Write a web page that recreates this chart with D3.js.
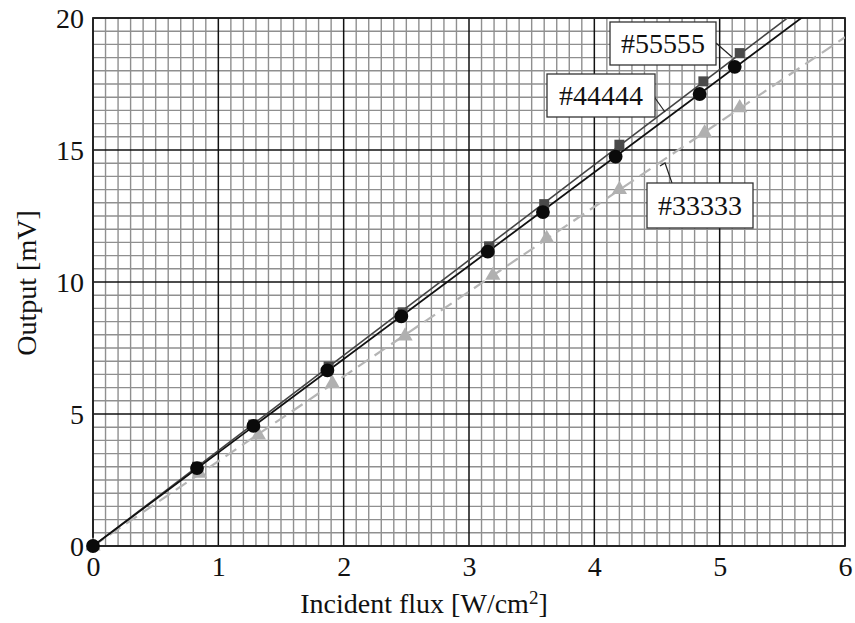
<!DOCTYPE html>
<html><head><meta charset="utf-8">
<script src="https://cdn.jsdelivr.net/npm/d3@7"></script>
<style>body{margin:0;background:#fff}svg{display:block}text{font-family:"Liberation Serif","Times New Roman",serif}</style>
</head><body>
<script>
// Data
const flux33333 = [0, 0.85, 1.32, 1.91, 2.49, 3.19, 3.62, 4.20, 4.88, 5.16];
const out33333  = [0, 2.75, 4.2, 6.15, 7.95, 10.25, 11.65, 13.5, 15.65, 16.6];
const flux44444 = [0, 0.83, 1.28, 1.87, 2.46, 3.15, 3.59, 4.17, 4.84, 5.12];
const out44444  = [0, 2.95, 4.55, 6.65, 8.7, 11.15, 12.65, 14.75, 17.12, 18.15];
const flux55555 = [0, 0.83, 1.28, 1.88, 2.47, 3.16, 3.60, 4.20, 4.87, 5.16];
const out55555  = [0, 3.0, 4.6, 6.8, 8.85, 11.35, 12.95, 15.2, 17.6, 18.67];
const seriesNames = ["#55555", "#44444", "#33333"];
const xTicks = [0, 1, 2, 3, 4, 5, 6];
const yTicks = [0, 5, 10, 15, 20];
const xTitle = "Incident flux [W/cm";
const xTitleSup = "2";
const yTitle = "Output [mV]";

const W = 855, H = 623;
const m = {left: 93, top: 18, right: 10, bottom: 77};
const iw = W - m.left - m.right, ih = H - m.top - m.bottom;

const svg = d3.select("body").append("svg").attr("width", W).attr("height", H);
const x = d3.scaleLinear().domain([0, 6]).range([m.left, m.left + iw]);
const y = d3.scaleLinear().domain([0, 20]).range([m.top + ih, m.top]);

svg.append("defs").append("clipPath").attr("id", "clip")
  .append("rect").attr("x", m.left).attr("y", m.top).attr("width", iw).attr("height", ih);

// Grid
const g = svg.append("g");
const minorX = d3.range(0, 61).map(i => i / 10);
const minorY = d3.range(0, 41).map(i => i / 2);
g.selectAll(".mx").data(minorX.filter(v => Math.round(v * 10) % 10 !== 0)).join("line")
  .attr("x1", d => x(d)).attr("x2", d => x(d)).attr("y1", m.top).attr("y2", m.top + ih)
  .attr("stroke", "#8f8f8f").attr("stroke-width", 1.4);
g.selectAll(".my").data(minorY.filter(v => v % 5 !== 0)).join("line")
  .attr("y1", d => y(d)).attr("y2", d => y(d)).attr("x1", m.left).attr("x2", m.left + iw)
  .attr("stroke", "#8f8f8f").attr("stroke-width", 1.4);
g.selectAll(".Mx").data(xTicks).join("line")
  .attr("x1", d => x(d)).attr("x2", d => x(d)).attr("y1", m.top).attr("y2", m.top + ih)
  .attr("stroke", "#111").attr("stroke-width", 1.5);
g.selectAll(".My").data(yTicks).join("line")
  .attr("y1", d => y(d)).attr("y2", d => y(d)).attr("x1", m.left).attr("x2", m.left + iw)
  .attr("stroke", "#111").attr("stroke-width", 1.5);
g.append("rect").attr("x", m.left).attr("y", m.top).attr("width", iw).attr("height", ih)
  .attr("fill", "none").attr("stroke", "#222").attr("stroke-width", 1.8);

// Axes tick labels using d3 axes
const xAxis = svg.append("g").attr("transform", `translate(0,${m.top + ih})`)
  .call(d3.axisBottom(x).tickValues(xTicks).tickFormat(d3.format("d")).tickSize(0).tickPadding(10));
const yAxis = svg.append("g").attr("transform", `translate(${m.left},0)`)
  .call(d3.axisLeft(y).tickValues(yTicks).tickFormat(d3.format("d")).tickSize(0).tickPadding(9));
[xAxis, yAxis].forEach(a => {
  a.select(".domain").remove();
  a.selectAll("text").attr("font-size", 28).attr("fill", "#111")
    .attr("font-family", '"Liberation Serif", serif');
});
yAxis.selectAll("text").attr("dy", "0.35em");

// Titles
const xt = svg.append("text").attr("x", 424).attr("y", 613)
  .attr("text-anchor", "middle").attr("font-size", 28).attr("fill", "#111");
xt.append("tspan").text(xTitle);
xt.append("tspan").text(xTitleSup).attr("font-size", 19).attr("dy", -9);
xt.append("tspan").text("]").attr("dy", 9);
svg.append("text").attr("transform", `translate(36,283) rotate(-90)`)
  .attr("text-anchor", "middle").attr("font-size", 28).attr("fill", "#111").text(yTitle);

// Fit lines through origin
function slope(xs, ys) {
  const sxy = d3.sum(xs, (v, i) => v * ys[i]);
  const sxx = d3.sum(xs, v => v * v);
  return sxy / sxx;
}
const plot = svg.append("g").attr("clip-path", "url(#clip)");
const lineGen = d3.line().x(d => x(d[0])).y(d => y(d[1]));
const series = [
  {name: "#33333", xs: flux33333, ys: out33333, color: "#b5b5b5", dash: "13,7", width: 2.2, marker: "triangle", mcolor: "#b0b0b0"},
  {name: "#55555", xs: flux55555, ys: out55555, color: "#444", dash: null, width: 1.6, marker: "square", mcolor: "#4a4a4a"},
  {name: "#44444", xs: flux44444, ys: out44444, color: "#111", dash: null, width: 1.8, marker: "circle", mcolor: "#0a0a0a"}
];
series.forEach(s => {
  const k = slope(s.xs, s.ys);
  plot.append("path").datum([[0, 0], [6, 6 * k]]).attr("d", lineGen)
    .attr("fill", "none").attr("stroke", s.color).attr("stroke-width", s.width)
    .attr("stroke-dasharray", s.dash);
});
series.forEach(s => {
  const pts = s.xs.map((v, i) => [v, s.ys[i]]);
  let sym;
  if (s.marker === "triangle") sym = d3.symbol(d3.symbolTriangle, 100);
  else if (s.marker === "square") sym = d3.symbol(d3.symbolSquare, 100);
  else sym = d3.symbol(d3.symbolCircle, 150);
  svg.append("g").selectAll("path").data(pts).join("path")
    .attr("d", sym)
    .attr("transform", d => `translate(${x(d[0])},${y(d[1])})`)
    .attr("fill", s.mcolor);
});

// Labels with leader lines
const labels = [
  {text: seriesNames[0], bx: 610, by: 22, bw: 106, bh: 43, leader: [[716, 43], [732, 57]]},
  {text: seriesNames[1], bx: 547, by: 74, bw: 108, bh: 43, leader: [[655, 98], [665, 112]]},
  {text: seriesNames[2], bx: 647, by: 183, bw: 106, bh: 45, leader: [[672, 183], [665, 163], [660, 166]]}
];
labels.forEach(l => {
  svg.append("path").attr("d", d3.line()(l.leader)).attr("fill", "none")
    .attr("stroke", "#222").attr("stroke-width", 1.2);
  svg.append("rect").attr("x", l.bx).attr("y", l.by).attr("width", l.bw).attr("height", l.bh)
    .attr("fill", "#fff").attr("stroke", "#333").attr("stroke-width", 1.3);
  svg.append("text").attr("x", l.bx + l.bw / 2).attr("y", l.by + l.bh / 2).attr("dy", "0.35em")
    .attr("text-anchor", "middle").attr("font-size", 28).attr("fill", "#111").text(l.text);
});
</script>
</body></html>
